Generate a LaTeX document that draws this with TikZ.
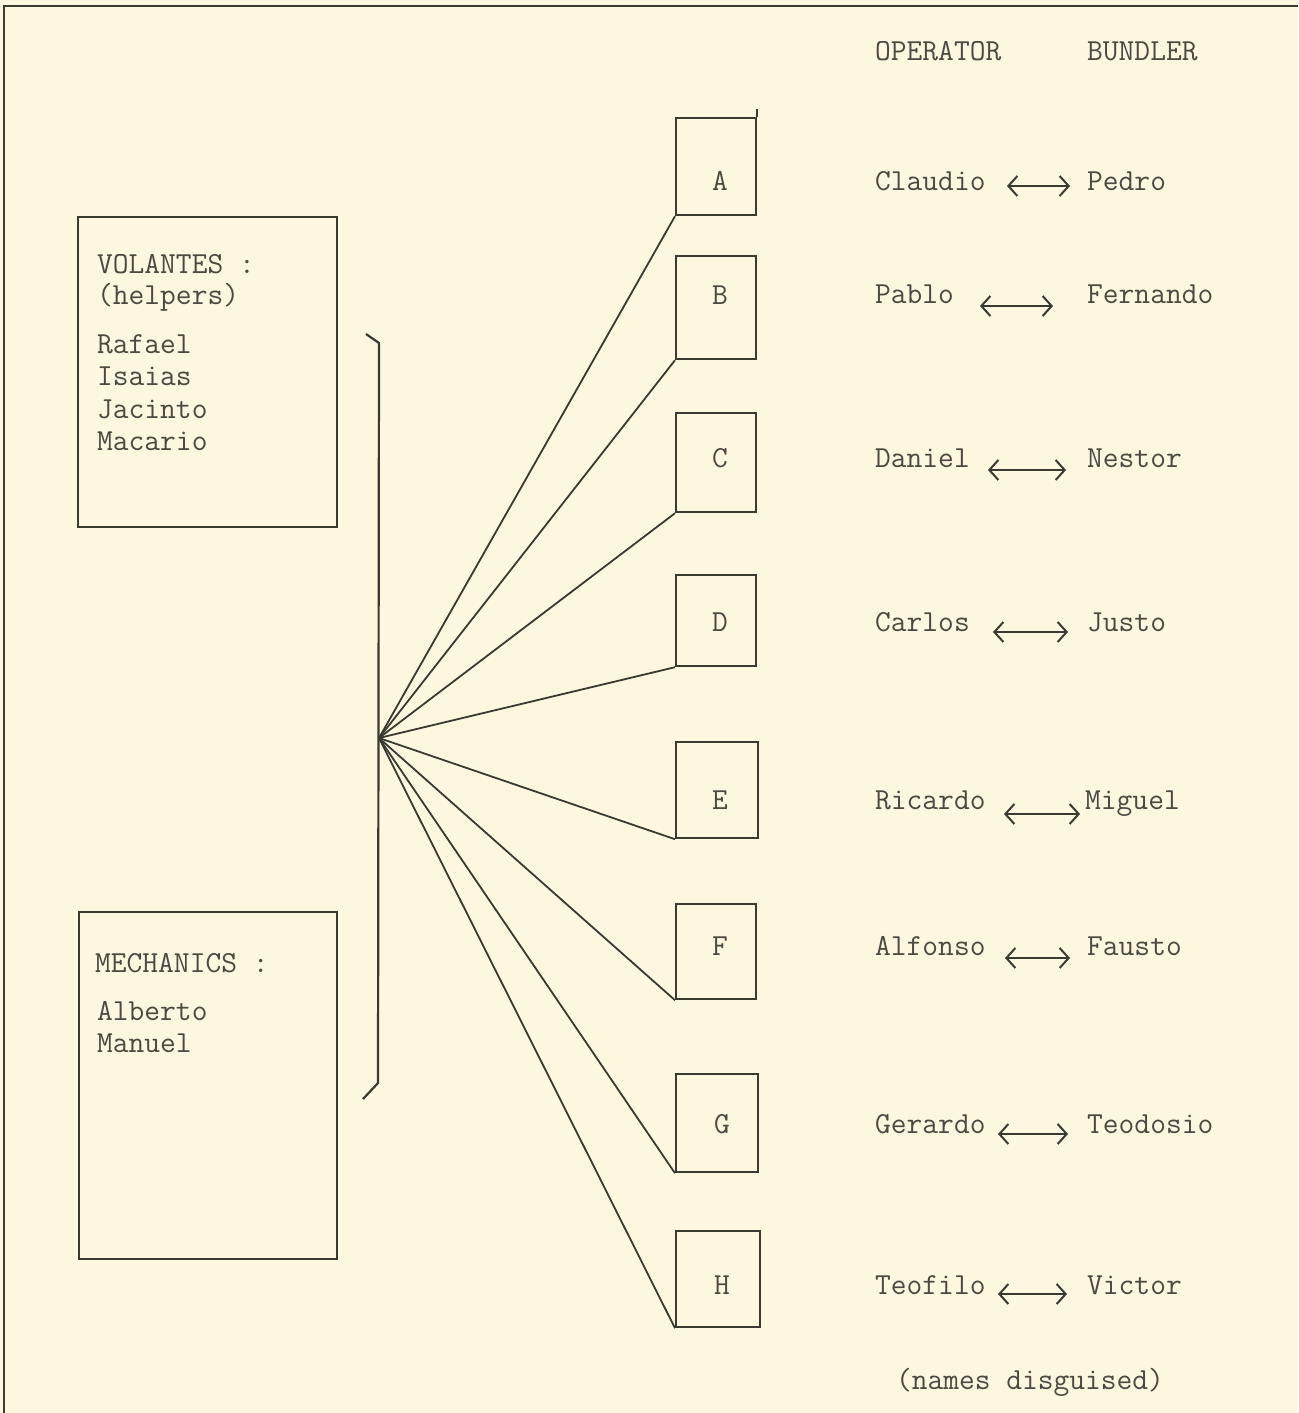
\documentclass[tikz,border=0pt]{standalone}
\usepackage{fontspec}
\usetikzlibrary{arrows.meta}
\definecolor{paper}{HTML}{FCF7DE}
\definecolor{ink}{HTML}{3A3A30}
\definecolor{txt}{HTML}{4C4A40}
\begin{document}
\begin{tikzpicture}[x=1pt,y=-1pt,
  tw/.style={font=\fontsize{30.6}{36}\ttfamily, text=txt, inner sep=0pt},
  lbox/.style={draw=ink, line width=2.2pt, inner sep=0pt},
  sbox/.style={draw=ink, line width=2.2pt, minimum width=80pt, minimum height=97pt, inner sep=0pt},
  spoke/.style={draw=ink, line width=1.8pt},
  dbl/.style={draw=ink, line width=2pt, {Straight Barb[length=9pt,width=20pt,line width=2pt]}-{Straight Barb[length=9pt,width=20pt,line width=2pt]}}]
\fill[paper] (0,0) rectangle (1298,1413);
\useasboundingbox (0,0) rectangle (1298,1413);
% frame
\draw[ink, line width=2.6pt] (4,1413) -- (4,6) -- (1298,6);

% left boxes
\node[lbox, minimum width=259pt, minimum height=310pt, anchor=north west] (vol) at (77,216) {};
\node[lbox, minimum width=258pt, minimum height=347pt, anchor=north west] (mech) at (78,911) {};
\node[tw, anchor=base west] (volt) at (97,273) {VOLANTES :};
\node[tw, anchor=base west] (help) at (97,304) {(helpers)};
\node[tw, anchor=base west] (n1) at (97,353) {Rafael};
\node[tw, anchor=base west] (n2) at (97,385) {Isaias};
\node[tw, anchor=base west] (n3) at (97,418) {Jacinto};
\node[tw, anchor=base west] (n4) at (97,450) {Macario};
\node[tw, anchor=base west] (mecht) at (95,972) {MECHANICS :};
\node[tw, anchor=base west] (m1) at (97,1020) {Alberto};
\node[tw, anchor=base west] (m2) at (97,1052) {Manuel};

% bracket
\coordinate (hub) at (379,738);
\draw[ink, line width=2.2pt] (366,334) -- (379,343) -- (378,1083) -- (363,1099);

% small boxes
\node[sbox, minimum height=97pt, anchor=north west] (A) at (675,117) {};
\node[sbox, minimum height=103pt, anchor=north west] (B) at (675,255) {};
\node[sbox, minimum height=99pt, anchor=north west] (C) at (675,412) {};
\node[sbox, minimum height=91pt, anchor=north west] (D) at (675,574) {};
\node[sbox, minimum width=82pt, minimum height=96pt, anchor=north west] (E) at (675,741) {};
\node[sbox, minimum height=95pt, anchor=north west] (F) at (675,903) {};
\node[sbox, minimum width=82pt, minimum height=98pt, anchor=north west] (G) at (675,1073) {};
\node[sbox, minimum width=84pt, minimum height=96pt, anchor=north west] (H) at (675,1230) {};
\draw[ink, line width=2.2pt] (A.north east) -- ++(0,-8);

\node[tw] (la) at (720,181) {A};
\node[tw] (lb) at (720,295) {B};
\node[tw] (lc) at (720,458) {C};
\node[tw] (ld) at (720,622) {D};
\node[tw] (le) at (720,800) {E};
\node[tw] (lf) at (720,946) {F};
\node[tw] (lg) at (722,1124) {G};
\node[tw] (lh) at (722,1285) {H};

% spokes
\foreach \b in {A,B,C,D,E,F,G,H}
  \draw[spoke] (hub) -- (\b.south west);

% header
\node[tw, anchor=base west] (oph) at (875,61) {OPERATOR};
\node[tw, anchor=base west] (buh) at (1087,61) {BUNDLER};

% pairs
\node[tw, anchor=base west] (o1) at (875,190) {Claudio};
\node[tw, anchor=base west] (b1) at (1087,190) {Pedro};
\node[tw, anchor=base west] (o2) at (875,303) {Pablo};
\node[tw, anchor=base west] (b2) at (1087,303) {Fernando};
\node[tw, anchor=base west] (o3) at (875,467) {Daniel};
\node[tw, anchor=base west] (b3) at (1087,467) {Nestor};
\node[tw, anchor=base west] (o4) at (875,631) {Carlos};
\node[tw, anchor=base west] (b4) at (1087,631) {Justo};
\node[tw, anchor=base west] (o5) at (875,809) {Ricardo};
\node[tw, anchor=base west] (b5) at (1085,809) {Miguel};
\node[tw, anchor=base west] (o6) at (875,955) {Alfonso};
\node[tw, anchor=base west] (b6) at (1087,955) {Fausto};
\node[tw, anchor=base west] (o7) at (875,1133) {Gerardo};
\node[tw, anchor=base west] (b7) at (1087,1133) {Teodosio};
\node[tw, anchor=base west] (o8) at (875,1294) {Teofilo};
\node[tw, anchor=base west] (b8) at (1087,1294) {Victor};

\coordinate (s1) at (1007,186); \coordinate (e1) at (1070,186);
\coordinate (s2) at (980,306);  \coordinate (e2) at (1053,306);
\coordinate (s3) at (988,470);  \coordinate (e3) at (1066,470);
\coordinate (s4) at (993,632);  \coordinate (e4) at (1068,632);
\coordinate (s5) at (1004,814); \coordinate (e5) at (1080,814);
\coordinate (s6) at (1005,958); \coordinate (e6) at (1070,958);
\coordinate (s7) at (998,1134); \coordinate (e7) at (1068,1134);
\coordinate (s8) at (998,1294); \coordinate (e8) at (1067,1294);
\foreach \i in {1,...,8}
  \draw[dbl] (s\i) -- (e\i);

\node[tw] (nd) at (1030,1382) {(names disguised)};
\end{tikzpicture}
\end{document}
